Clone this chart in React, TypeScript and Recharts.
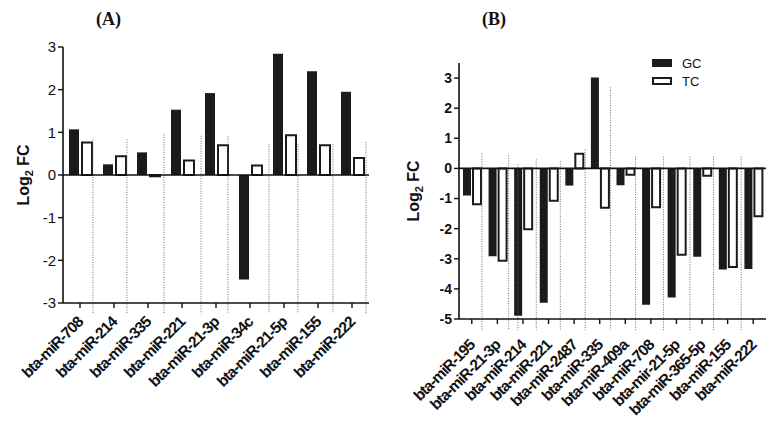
import React from "react";
import { BarChart, Bar, XAxis, YAxis, ReferenceLine, Legend, Label } from "recharts";

// ---- panel A data ----
const categoriesA = [
  "bta-miR-708", "bta-miR-214", "bta-miR-335", "bta-miR-221", "bta-miR-21-3p",
  "bta-miR-34c", "bta-miR-21-5p", "bta-miR-155", "bta-miR-222",
];
const gcA = [1.07, 0.25, 0.53, 1.53, 1.92, -2.45, 2.84, 2.43, 1.95];
const tcA = [0.76, 0.44, -0.03, 0.34, 0.7, 0.22, 0.93, 0.7, 0.4];
const yTicksA = [-3, -2, -1, 0, 1, 2, 3];
// dotted separators (position in category units, top value)
const sepPosA = [0.88, 1.88, 2.97, 4.06, 4.85, 6.06, 6.91, 7.94, 8.91];
const sepTopA = [0.83, 0.83, 0.95, 0.92, 0.9, 0.73, 0.73, 0.73, 0.77];

// ---- panel B data ----
const categoriesB = [
  "bta-miR-195", "bta-miR-21-3p", "bta-miR-214", "bta-miR-221", "bta-miR-2487",
  "bta-miR-335", "bta-miR-409a", "bta-miR-708", "bta-mir-21-5p", "bta-miR-365-5p",
  "bta-miR-155", "bta-miR-222",
];
const gcB = [-0.9, -2.92, -4.89, -4.46, -0.57, 3.02, -0.56, -4.53, -4.29, -2.93, -3.36, -3.34];
const tcB = [-1.19, -3.07, -2.02, -1.07, 0.49, -1.31, -0.21, -1.29, -2.87, -0.24, -3.27, -1.59];
const yTicksB = [-5, -4, -3, -2, -1, 0, 1, 2, 3];
const sepPosB = [0.9, 1.94, 2.3, 3.02, 3.96, 4.93, 5.92, 6.9, 7.99, 9.03, 9.95, 11.03];
const sepTopB = [0.49, 0.43, 0.13, 0.3, 0.24, 0.63, 2.69, 0.39, 0.39, 0.39, 0.39, 0.39];

const FONT = "'Liberation Sans', Arial, sans-serif";
const BAR_DARK = "#1b1b1b";

// slot = centre of each category in category units (used by the hidden separator axis)
const buildRows = (cats: string[], gc: number[], tc: number[]) =>
  cats.map((name, i) => ({ name, slot: i + 0.5, GC: gc[i], TC: tc[i] }));

// ============[ ROTATED X TICK ]============
const XTick = ({ x, y, payload, dy }: any) => (
  <g transform={`translate(${x + 4},${y + dy}) rotate(-45)`}>
    <text
      textAnchor="end"
      fontFamily={FONT}
      fontWeight="bold"
      fontSize={15.5}
      letterSpacing={-0.9}
      fill="#111"
    >
      {payload.value}
    </text>
  </g>
);

// ============[ Y LABEL WITH SUBSCRIPT ]============
const YLabel = ({ viewBox, shift }: any) => {
  const cx = viewBox.x + shift;
  const cy = viewBox.y + viewBox.height / 2;
  return (
    <text
      transform={`translate(${cx},${cy}) rotate(-90)`}
      textAnchor="middle"
      fontFamily={FONT}
      fontWeight="bold"
      fontSize={16}
      fill="#111"
    >
      Log<tspan fontSize={11} dy={4}>2</tspan>
      <tspan dy={-4}> FC</tspan>
    </text>
  );
};

// ============[ LEGEND ]============
const LegendBox = ({ payload }: any) => (
  <div style={{ fontFamily: FONT, fontSize: 13, color: "#111" }}>
    {(payload || []).map((entry: any) => (
      <div key={entry.value} style={{ display: "flex", alignItems: "center", height: 18 }}>
        <span
          style={{
            display: "inline-block",
            width: 20,
            height: 8,
            boxSizing: "border-box",
            background: entry.color,
            border: `2px solid ${BAR_DARK}`,
            marginRight: 10,
          }}
        />
        <span>{entry.value}</span>
      </div>
    ))}
  </div>
);

interface PanelProps {
  cats: string[];
  gc: number[];
  tc: number[];
  ticks: number[];
  domain: [number, number];
  sepPos: number[];
  sepTop: number[];
  sepBottom: number;
  width: number;
  margin: { top: number; right: number; left: number; bottom: number };
  barSize: number;
  barGap: number;
  tickDy: number;
  labelShift: number;
  boldTicks: boolean;
  showLegend: boolean;
}

function Panel(p: PanelProps) {
  const data = buildRows(p.cats, p.gc, p.tc);
  return (
    <BarChart
      width={p.width}
      height={429}
      data={data}
      margin={p.margin}
      barSize={p.barSize}
      barGap={p.barGap}
    >
      <XAxis
        dataKey="name"
        interval={0}
        height={80}
        axisLine={{ stroke: "#111", strokeWidth: 1.6 }}
        tickLine={{ stroke: "#111", strokeWidth: 1.4 }}
        tickSize={5}
        tick={<XTick dy={p.tickDy} />}
      />
      <XAxis
        xAxisId="sep"
        dataKey="slot"
        type="number"
        domain={[0, p.cats.length]}
        hide
        allowDataOverflow
      />
      <YAxis
        domain={p.domain}
        ticks={p.ticks}
        interval={0}
        width={40}
        allowDataOverflow
        axisLine={{ stroke: "#111", strokeWidth: 1.6 }}
        tickLine={{ stroke: "#111", strokeWidth: 1.4 }}
        tickSize={5}
        tick={{
          fill: "#111",
          fontSize: p.boldTicks ? 14 : 15,
          fontWeight: p.boldTicks ? "bold" : "normal",
          fontFamily: FONT,
        }}
      >
        <Label content={<YLabel shift={p.labelShift} />} />
      </YAxis>
      {p.sepPos.map((pos, i) => (
        <ReferenceLine
          key={`sep-${i}`}
          xAxisId="sep"
          ifOverflow="visible"
          segment={[
            { x: pos, y: p.sepTop[i] },
            { x: pos, y: p.sepBottom },
          ]}
          stroke="#6a6a6a"
          strokeWidth={1}
          strokeDasharray="1 1.5"
        />
      ))}
      <ReferenceLine y={0} stroke="#111" strokeWidth={1.6} />
      {p.showLegend && (
        <Legend
          layout="vertical"
          align="center"
          verticalAlign="middle"
          content={<LegendBox />}
          wrapperStyle={{ position: "absolute", left: 262, top: 54, width: 60 }}
        />
      )}
      <Bar dataKey="GC" name="GC" fill={BAR_DARK} isAnimationActive={false} />
      <Bar
        dataKey="TC"
        name="TC"
        fill="#ffffff"
        stroke={BAR_DARK}
        strokeWidth={2}
        isAnimationActive={false}
      />
    </BarChart>
  );
}

export default function App() {
  const titleStyle: React.CSSProperties = {
    position: "absolute",
    fontFamily: "'Liberation Serif', 'Times New Roman', serif",
    fontWeight: "bold",
    fontSize: 18,
    color: "#111",
  };
  return (
    <div style={{ position: "absolute", left: 0, top: 0, width: 781, height: 429, background: "#fff", overflow: "hidden" }}>
      <div style={{ ...titleStyle, left: 96, top: 9 }}>(A)</div>
      <div style={{ ...titleStyle, left: 482, top: 9 }}>(B)</div>
      <div style={{ position: "absolute", left: 0, top: 0 }}>
        <Panel
          cats={categoriesA}
          gc={gcA}
          tc={tcA}
          ticks={yTicksA}
          domain={[-3, 3]}
          sepPos={sepPosA}
          sepTop={sepTopA}
          sepBottom={-3.25}
          width={390}
          margin={{ top: 47, right: 21, left: 23, bottom: 46 }}
          barSize={10}
          barGap={3}
          tickDy={13}
          labelShift={6}
          boldTicks={false}
          showLegend={false}
        />
      </div>
      <div style={{ position: "absolute", left: 390, top: 0 }}>
        <Panel
          cats={categoriesB}
          gc={gcB}
          tc={tcB}
          ticks={yTicksB}
          domain={[-5, 3.5]}
          sepPos={sepPosB}
          sepTop={sepTopB}
          sepBottom={-5.37}
          width={391}
          margin={{ top: 63, right: 15, left: 29, bottom: 30 }}
          barSize={8}
          barGap={2}
          tickDy={20}
          labelShift={0}
          boldTicks={true}
          showLegend={true}
        />
      </div>
    </div>
  );
}
